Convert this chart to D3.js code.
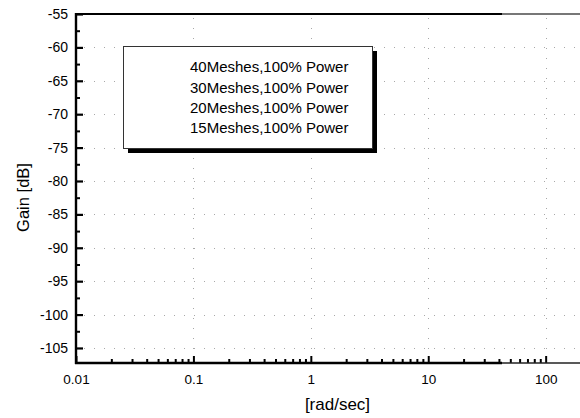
<!DOCTYPE html>
<html>
<head>
<meta charset="utf-8">
<script src="https://cdn.jsdelivr.net/npm/d3@7"></script>
<style>
  html, body { margin: 0; padding: 0; background: #fff; }
  svg { display: block; font-family: "Liberation Sans", Arial, sans-serif; }
</style>
</head>
<body>
<svg id="chart" width="580" height="418"></svg>
<script>
// ---- data ----
const seriesNames = [
  "40Meshes,100% Power",
  "30Meshes,100% Power",
  "20Meshes,100% Power",
  "15Meshes,100% Power"
];
const xDomain = [0.01, 200];
const yDomain = [-107.25, -55];
const xMajorTicks = [0.01, 0.1, 1, 10, 100];
const xTickLabels = ["0.01", "0.1", "1", "10", "100"];
const yMajorTicks = [-55, -60, -65, -70, -75, -80, -85, -90, -95, -100, -105];
const yTickLabels = ["-55", "-60", "-65", "-70", "-75", "-80", "-85", "-90", "-95", "-100", "-105"];
const xTitle = "[rad/sec]";
const yTitle = "Gain [dB]";

(function () {
// ---- layout ----
const pL = 76, pR = 581, pT = 14, pB = 363;
const svg = d3.select("#chart");

const x = d3.scaleLog().domain(xDomain).range([pL, pR]);
const y = d3.scaleLinear().domain(yDomain).range([pB, pT]);

// minor ticks
const xMinor = [];
for (let d = 0.01; d < 200; d *= 10) {
  for (let k = 2; k <= 9; k++) {
    const v = +(d * k).toPrecision(6);
    if (v <= xDomain[1]) xMinor.push(v);
  }
}
const yMinor = [];
for (let v = -57.5; v > yDomain[0]; v -= 5) yMinor.push(v);

// grid (dotted, sparse)
const grid = svg.append("g").attr("stroke", "#a8a8a8").attr("stroke-width", 1)
  .attr("stroke-dasharray", "1,9");
grid.selectAll("line.h").data(yMajorTicks.filter(v => v !== -55)).enter().append("line")
  .attr("x1", pL + 8).attr("x2", 580)
  .attr("y1", d => Math.round(y(d)) + 0.5).attr("y2", d => Math.round(y(d)) + 0.5);
grid.selectAll("line.v").data(xMajorTicks.filter(v => v !== 0.01)).enter().append("line")
  .attr("y1", pT + 4).attr("y2", pB - 8)
  .attr("x1", d => Math.round(x(d)) + 0.5).attr("x2", d => Math.round(x(d)) + 0.5);

// axes using d3 axes (ticks pointing inward)
const yAxis = d3.axisLeft(y).tickValues(yMajorTicks).tickSize(-7)
  .tickFormat((d, i) => yTickLabels[i]).tickPadding(8);
const gy = svg.append("g").attr("transform", `translate(${pL},0)`).call(yAxis);
gy.select(".domain").remove();
gy.selectAll(".tick line").attr("stroke", "#000").attr("stroke-width", 2.2);
gy.selectAll(".tick text").attr("font-size", 14).attr("fill", "#000")
  .attr("font-family", "Liberation Sans, Arial, sans-serif");

const yAxisMinor = d3.axisLeft(y).tickValues(yMinor).tickSize(-4).tickFormat("");
const gym = svg.append("g").attr("transform", `translate(${pL},0)`).call(yAxisMinor);
gym.select(".domain").remove();
gym.selectAll(".tick line").attr("stroke", "#000").attr("stroke-width", 2);

const xAxis = d3.axisBottom(x).tickValues(xMajorTicks).tickSize(-7)
  .tickFormat((d, i) => xTickLabels[i]).tickPadding(11);
const gx = svg.append("g").attr("transform", `translate(0,${pB})`).call(xAxis);
gx.select(".domain").remove();
gx.selectAll(".tick line").attr("stroke", "#000").attr("stroke-width", 2);
gx.selectAll(".tick text").attr("font-size", 13.5).attr("fill", "#000")
  .attr("font-family", "Liberation Sans, Arial, sans-serif");

const xAxisMinor = d3.axisBottom(x).tickValues(xMinor).tickSize(-4).tickFormat("");
const gxm = svg.append("g").attr("transform", `translate(0,${pB})`).call(xAxisMinor);
gxm.select(".domain").remove();
gxm.selectAll(".tick line").attr("stroke", "#000").attr("stroke-width", 2);

// frame
svg.append("line").attr("x1", pL).attr("x2", pL).attr("y1", pT - 1).attr("y2", pB + 1)
  .attr("stroke", "#000").attr("stroke-width", 2.4);
svg.append("line").attr("x1", pL - 1).attr("x2", 502).attr("y1", pB).attr("y2", pB)
  .attr("stroke", "#000").attr("stroke-width", 2.4);
svg.append("line").attr("x1", 502).attr("x2", 580).attr("y1", pB).attr("y2", pB)
  .attr("stroke", "#222").attr("stroke-width", 1.6);
svg.append("line").attr("x1", pL - 1).attr("x2", 502).attr("y1", pT).attr("y2", pT)
  .attr("stroke", "#000").attr("stroke-width", 2.2);
svg.append("line").attr("x1", 502).attr("x2", 580).attr("y1", pT).attr("y2", pT)
  .attr("stroke", "#777").attr("stroke-width", 2);

// legend
const lg = { x: 123, y: 46, w: 249, h: 102, off: 5 };
svg.append("rect").attr("x", lg.x + lg.off).attr("y", lg.y + lg.off)
  .attr("width", lg.w).attr("height", lg.h).attr("fill", "#000");
svg.append("rect").attr("x", lg.x + 0.5).attr("y", lg.y + 0.5)
  .attr("width", lg.w).attr("height", lg.h).attr("fill", "#fff")
  .attr("stroke", "#333").attr("stroke-width", 1);
svg.append("g").selectAll("text").data(seriesNames).enter().append("text")
  .attr("x", 190).attr("y", (d, i) => 72.3 + i * 20.3)
  .attr("font-size", 15).attr("fill", "#000")
  .text(d => d);

// titles
svg.append("text").attr("x", 337.5).attr("y", 410).attr("text-anchor", "middle")
  .attr("font-size", 17).attr("fill", "#000").text(xTitle);
svg.append("text").attr("transform", "translate(28.5,197.5) rotate(-90)")
  .attr("text-anchor", "middle").attr("font-size", 16.5).attr("fill", "#000").text(yTitle);
})();
</script>
</body>
</html>
